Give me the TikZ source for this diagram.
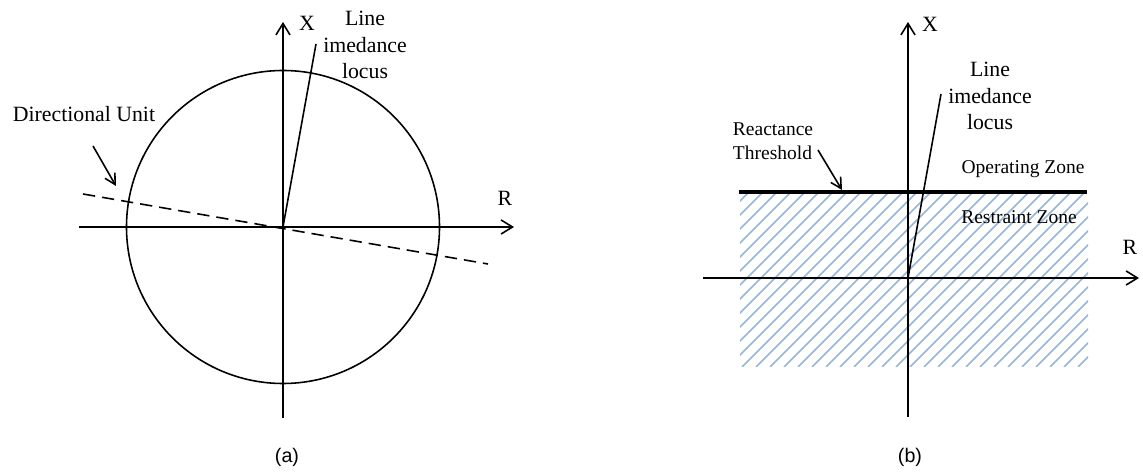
\documentclass[tikz,border=0pt]{standalone}
\usepackage{fontspec}
\setmainfont{Liberation Serif}
\setsansfont{Liberation Sans}
\usetikzlibrary{arrows.meta}
\definecolor{hatchblue}{RGB}{150,182,220}
\begin{document}
\begin{tikzpicture}[x=0.02cm, y=-0.02cm, line width=0.9pt,
    axis/.style={-{Straight Barb[length=6.5pt,width=8pt]}},
    pointer/.style={-{Straight Barb[length=6pt,width=6.5pt]}},
    lbl/.style={font=\fontsize{12.4}{15.3}\selectfont, align=center, inner sep=0pt},
    small/.style={font=\fontsize{11.1}{13.6}\selectfont, align=left, inner sep=0pt},
    subcap/.style={font=\sffamily\fontsize{11.2}{13}\selectfont, inner sep=0pt}]
    \useasboundingbox (0,0) rectangle (1143,472);

    % (a) circle characteristic
    \coordinate (a0) at (283,227);
    \coordinate (abot) at (283,418);
    \coordinate (atop) at (283,22);
    \coordinate (aleft) at (79,227);
    \coordinate (aright) at (514,227);
    \coordinate (aloc) at (316,44);
    \coordinate (adl) at (83,194);
    \coordinate (adr) at (488,264);
    \coordinate (apt) at (93,146);
    \coordinate (ahd) at (116,186);
    \draw (a0) circle [radius=156.5];
    \draw[axis] (abot) -- (atop);
    \draw[axis] (aleft) -- (aright);
    \draw (a0) -- (aloc);
    \draw[dash pattern=on 7pt off 4pt] (adl) -- (adr);
    \draw[pointer] (apt) -- (ahd);
    \node[lbl] (ax) at (307,23) {X};
    \node[lbl] (ar) at (505,198) {R};
    \node[lbl] (aline) at (365,45) {Line\\imedance\\locus};
    \node[lbl] (adir) at (84,114) {Directional Unit};
    \node[subcap] (acap) at (287,457) {(a)};

    % (b) reactance characteristic
    \begin{scope}
        \clip (740,192) rectangle (1088,367);
        \foreach \i in {0,...,40} {
            \draw[hatchblue, line width=0.85pt] (560+\i*14,367) -- ++(200,-200);
        }
    \end{scope}
    \coordinate (b0) at (908,278);
    \coordinate (bbot) at (908,417);
    \coordinate (btop) at (908,22);
    \coordinate (bleft) at (703,278);
    \coordinate (bright) at (1139,278);
    \coordinate (bloc) at (941,94);
    \coordinate (bthl) at (739,192);
    \coordinate (bthr) at (1087,192);
    \coordinate (bpt) at (818,150);
    \coordinate (bhd) at (842,190);
    \draw[axis] (bbot) -- (btop);
    \draw[axis] (bleft) -- (bright);
    \draw (b0) -- (bloc);
    \draw[line width=2.3pt] (bthl) -- (bthr);
    \draw[pointer] (bpt) -- (bhd);
    \node[lbl] (bx) at (930,24) {X};
    \node[lbl] (br) at (1130,247) {R};
    \node[lbl] (bline) at (990,96) {Line\\imedance\\locus};
    \node[small] (bthtxt) at (773,141) {Reactance\\Threshold};
    \node[small] (bop) at (1023,169) {Operating Zone};
    \node[small] (bre) at (1019,217) {Restraint Zone};
    \node[subcap] (bcap) at (910,457) {(b)};
\end{tikzpicture}
\end{document}
